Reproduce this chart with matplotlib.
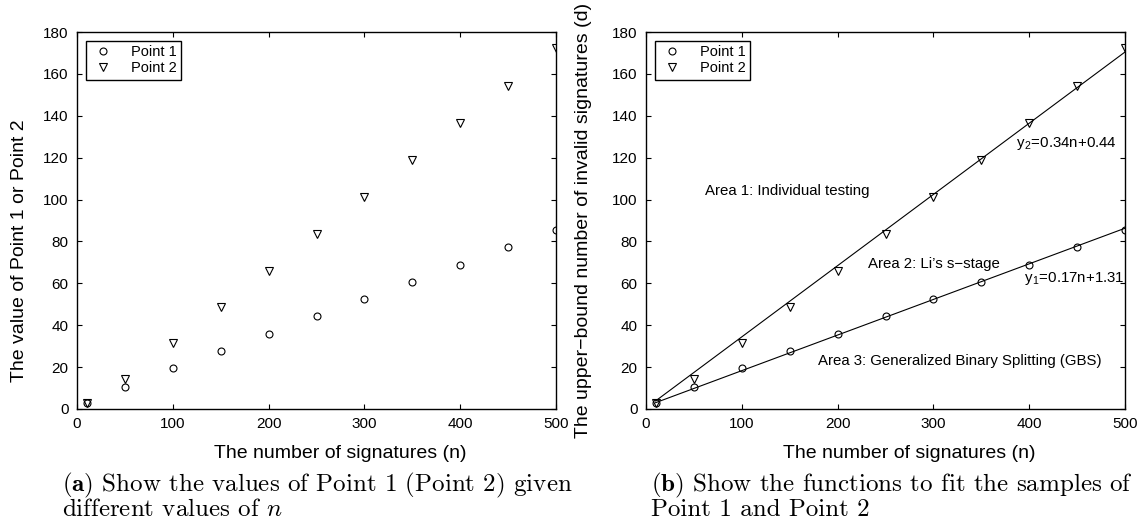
import numpy as np
import matplotlib
matplotlib.use("Agg")
import matplotlib.pyplot as plt

# Data
N_VALUES = [10, 50, 100, 150, 200, 250, 300, 350, 400, 450, 500]
POINT1 = [2.9, 10.3, 19.4, 27.5, 35.7, 44.2, 52.7, 60.6, 68.6, 77.2, 85.5]
POINT2 = [3.0, 14.3, 31.4, 48.5, 65.9, 83.4, 101.1, 118.7, 136.6, 154.4, 172.4]

# Fitted lines shown in panel (b): slope, intercept
FIT1 = (0.17, 1.31)
FIT2 = (0.34, 0.44)

X_TICKS = [0, 100, 200, 300, 400, 500]
Y_TICKS = list(range(0, 181, 20))

plt.rcParams["font.family"] = "Liberation Sans"
plt.rcParams["mathtext.fontset"] = "cm"

W, H = 1138, 528


def style_axes(ax):
    ax.set_xlim(0, 500)
    ax.set_ylim(0, 180)
    ax.set_xticks(X_TICKS)
    ax.set_yticks(Y_TICKS)
    ax.tick_params(direction="in", top=True, right=True, length=3.5,
                   width=0.8, labelsize=11, pad=6)
    for s in ax.spines.values():
        s.set_linewidth(1.0)
    ax.set_xlabel("The number of signatures (n)", fontsize=14, va="center")
    ax.xaxis.set_label_coords(0.549, -0.119)


def draw_points(ax):
    ax.plot(N_VALUES, POINT1, linestyle="none", marker="o", markersize=5,
            mfc="none", mec="black", mew=0.8, label="Point 1")
    ax.plot(N_VALUES, POINT2, linestyle="none", marker="v", markersize=5.5,
            mfc="none", mec="black", mew=0.8, label="Point 2")
    leg = ax.legend(loc="upper left", fontsize=10.5, fancybox=False,
                    edgecolor="black", framealpha=1, borderpad=0.3,
                    handletextpad=1.0, handlelength=1.8,
                    borderaxespad=0.6, labelspacing=0.15)
    leg.get_frame().set_linewidth(1.0)


fig = plt.figure(figsize=(W / 100, H / 100), dpi=100)
ax1 = fig.add_axes([77 / W, (H - 409) / H, 479 / W, 377 / H])
ax2 = fig.add_axes([646 / W, (H - 409) / H, 479 / W, 377 / H])

# Panel (a)
draw_points(ax1)
style_axes(ax1)
ax1.set_ylabel("The value of Point 1 or Point 2", fontsize=14, va="center")
ax1.yaxis.set_label_coords(-0.119, 0.419)

# Panel (b)
n_line = np.array([N_VALUES[0], N_VALUES[-1]])
ax2.plot(n_line, FIT2[0] * n_line + FIT2[1], color="black", linewidth=0.8)
ax2.plot(n_line, FIT1[0] * n_line + FIT1[1], color="black", linewidth=0.8)
draw_points(ax2)
style_axes(ax2)
ax2.set_ylabel("The upper\u2212bound number of invalid signatures (d)",
               fontsize=14, va="center")
ax2.yaxis.set_label_coords(-0.1315, 0.5)

txt = dict(fontsize=10.8, va="center")
ax2.text(62, 104, "Area 1: Individual testing", **txt)
ax2.text(232, 69, "Area 2: Li\u2019s s\u2212stage", **txt)
ax2.text(180, 23, "Area 3: Generalized Binary Splitting (GBS)", **txt)
ax2.text(386, 127, r"y$_\mathregular{2}$=0.34n+0.44", **txt)
ax2.text(395, 62.5, r"y$_\mathregular{1}$=0.17n+1.31", **txt)

# Sub-captions
cap = dict(fontsize=18, family="cmr10", va="center", ha="left")
fig.text(62 / W, 1 - 485 / H,
         r"$\mathbf{(a)}$ Show the values of Point 1 (Point 2) given", **cap)
fig.text(62 / W, 1 - 510 / H, r"different values of $n$", **cap)
fig.text(651 / W, 1 - 485 / H,
         r"$\mathbf{(b)}$ Show the functions to fit the samples of", **cap)
fig.text(651 / W, 1 - 510 / H, "Point 1 and Point 2", **cap)

fig.savefig("out.png", dpi=100)
